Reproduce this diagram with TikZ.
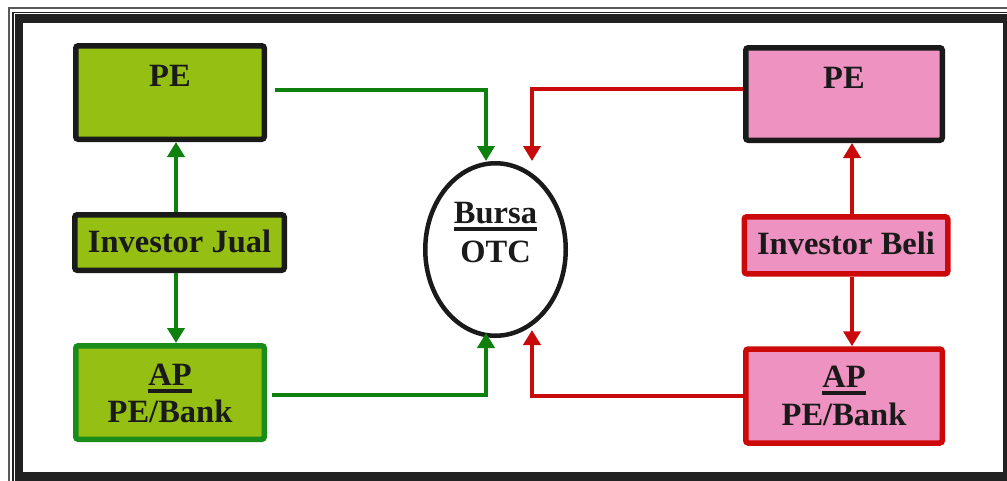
\documentclass[tikz,border=0pt]{standalone}
\usepackage{fontspec}
\setmainfont{Liberation Serif}
\usetikzlibrary{arrows.meta,shapes.geometric}
\definecolor{gline}{HTML}{0D800D}
\definecolor{rline}{HTML}{C80A0A}
\definecolor{gbord}{HTML}{1A8C1A}
\definecolor{rbord}{HTML}{CC0808}
\definecolor{gfill}{HTML}{95BF12}
\definecolor{pfill}{HTML}{EE93C1}
\definecolor{txt}{HTML}{1A1A1A}
\definecolor{frm}{HTML}{222222}
\newcommand\myul[1]{\setbox0=\hbox{#1}\rlap{\rule[-7.5pt]{\wd0}{3.2pt}}\box0}
\begin{document}
\begin{tikzpicture}[x=1pt,y=-1pt,
  box/.style={draw=txt, line width=5.5pt, rounded corners=2.5pt, inner sep=0pt},
  gbox/.style={box, fill=gfill},
  pbox/.style={box, fill=pfill},
  lbl/.style={font=\fontsize{32.5}{36}\selectfont\bfseries, text=txt, inner sep=0pt, anchor=base},
  garr/.style={draw=gline, line width=4.8pt, -{Triangle[width=17pt,length=15pt]}},
  rarr/.style={draw=rline, line width=4.8pt, -{Triangle[width=17pt,length=15pt]}}]
\useasboundingbox (0,0) rectangle (1007,480);
% frame
\draw[line width=1.6pt, draw=black!65] (9,8.2) rectangle (1030,500);
\draw[line width=1.6pt, draw=frm] (13.2,12.5) rectangle (1030,500);
\fill[frm] (15,14) rectangle (1030,500);
\fill[white] (22.5,22.5) rectangle (1002.5,471.5);
% boxes
\node[gbox, minimum width=188.5pt, minimum height=93.5pt] (pe1) at (170,92.5) {};
\node[gbox, minimum width=209.5pt, minimum height=55.5pt] (jual) at (179.5,242.5) {};
\node[gbox, draw=gbord, minimum width=188.5pt, minimum height=93.5pt] (ap1) at (170,392.5) {};
\node[pbox, minimum width=196.5pt, minimum height=92.5pt] (pe2) at (844,94) {};
\node[pbox, draw=rbord, minimum width=203.5pt, minimum height=57pt] (beli) at (846,245.3) {};
\node[pbox, draw=rbord, minimum width=196.5pt, minimum height=94pt] (ap2) at (844,396) {};
\node[draw=txt, ellipse, line width=4.5pt, minimum width=140.5pt, minimum height=172.5pt, inner sep=0pt] (bursa) at (495.5,249.5) {};
% labels
\node[lbl] (pe1t) at (170,86) {PE};
\node[lbl] (jualt) at (179.5,252) {Investor Jual};
\node[lbl] (ap1a) at (170,385) {\myul{AP}};
\node[lbl] (ap1b) at (170,422) {PE/Bank};
\node[lbl] (pe2t) at (844,88) {PE};
\node[lbl] (belit) at (846,254) {Investor Beli};
\node[lbl] (ap2a) at (844,387) {\myul{AP}};
\node[lbl] (ap2b) at (844,425) {PE/Bank};
\node[lbl] (bt1) at (495.5,223) {\myul{Bursa}};
\node[lbl] (bt2) at (495.5,262) {OTC};
% connectors
\coordinate (gx) at (486,0);
\coordinate (rx) at (532,0);
\coordinate (lx) at (176,0);
\coordinate (rvx) at (852,0);
\draw[garr] ([shift={(8,-2.5)}]pe1.east) -| (gx |- bursa.north);
\draw[garr] ([shift={(5,2.5)}]ap1.east) -| ([yshift=5pt]gx |- bursa.south);
\draw[rarr] ([yshift=5pt]pe2.west) -| (rx |- bursa.north);
\draw[rarr] (ap2.west) -| ([yshift=8pt]rx |- bursa.south);
\draw[garr] (lx |- jual.north) -- (lx |- pe1.south);
\draw[garr] (lx |- jual.south) -- (lx |- ap1.north);
\draw[rarr] (rvx |- beli.north) -- (rvx |- pe2.south);
\draw[rarr] (rvx |- beli.south) -- (rvx |- ap2.north);
\end{tikzpicture}
\end{document}
